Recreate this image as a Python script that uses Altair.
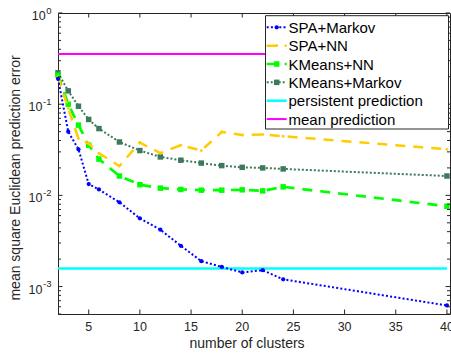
import altair as alt
import pandas as pd

# ---------------- data ----------------
clusters = [2, 3, 4, 5, 6, 8, 10, 12, 14, 16, 18, 20, 22, 24, 40]
spa_markov = [0.19, 0.050, 0.032, 0.0133, 0.0116, 0.0084, 0.0056, 0.0042, 0.0028,
              0.0019, 0.00164, 0.00143, 0.00151, 0.00120, 0.00062]
spa_nn = [0.20, 0.090, 0.042, 0.037, 0.029, 0.021, 0.038, 0.029, 0.0355,
          0.031, 0.0496, 0.0458, 0.0465, 0.0445, 0.032]
kmeans_nn = [0.208, 0.100, 0.059, 0.0355, 0.025, 0.0163, 0.0131, 0.0120, 0.0116,
             0.0114, 0.0114, 0.0115, 0.0112, 0.0124, 0.0076]
kmeans_markov = [0.221, 0.140, 0.095, 0.068, 0.054, 0.0385, 0.0310, 0.0264, 0.0243,
                 0.0226, 0.0212, 0.0203, 0.0200, 0.0195, 0.0163]
baseline_x = [2, 40]
persistent_value = [0.00158, 0.00158]
mean_value = [0.355, 0.355]

series_names = ["SPA+Markov", "SPA+NN", "KMeans+NN", "KMeans+Markov",
                "persistent prediction", "mean prediction"]

x_ticks = [5, 10, 15, 20, 25, 30, 35, 40]
y_major = [0.001, 0.01, 0.1, 1.0]
y_label_base = ["10", "10", "10", "10"]
y_label_exp = ["-3", "-2", "-1", "0"]
y_minor = [0.0005, 0.0006, 0.0007, 0.0008, 0.0009,
           0.002, 0.003, 0.004, 0.005, 0.006, 0.007, 0.008, 0.009,
           0.02, 0.03, 0.04, 0.05, 0.06, 0.07, 0.08, 0.09,
           0.2, 0.3, 0.4, 0.5, 0.6, 0.7, 0.8, 0.9]
x_title = "number of clusters"
y_title = "mean square Euclidean prediction error"

# ---------------- styling ----------------
W, H = 392, 301
FONT = "Liberation Sans"
INK = "#262626"

styles = {
    "SPA+Markov": dict(color="#0000ff", dash=[2, 2.2], width=2, shape="circle", size=18),
    "SPA+NN": dict(color="#ffcc00", dash=[10, 8], width=2.5, shape="circle", size=8),
    "KMeans+NN": dict(color="#00ff00", dash=[10, 8], width=2.7, shape="square", size=30),
    "KMeans+Markov": dict(color="#3d7a5c", dash=[2, 2], width=2, shape="square", size=30),
    "persistent prediction": dict(color="#00ffff", dash=None, width=2.5, shape=None, size=0),
    "mean prediction": dict(color="#ff00ff", dash=None, width=2, shape=None, size=0),
}

xs = alt.Scale(domain=[2, 40.3], nice=False, zero=False)
ys = alt.Scale(type="log", domain=[0.0005, 1], nice=False)

series_values = {
    "SPA+Markov": (clusters, spa_markov),
    "SPA+NN": (clusters, spa_nn),
    "KMeans+NN": (clusters, kmeans_nn),
    "KMeans+Markov": (clusters, kmeans_markov),
    "persistent prediction": (baseline_x, persistent_value),
    "mean prediction": (baseline_x, mean_value),
}

layers = []
for name in ["persistent prediction", "mean prediction", "KMeans+Markov", "KMeans+NN", "SPA+NN", "SPA+Markov"]:
    xv, yv = series_values[name]
    df = pd.DataFrame({"clusters": xv, "err": yv})
    st = styles[name]
    line_kw = dict(color=st["color"], strokeWidth=st["width"])
    if st["dash"]:
        line_kw["strokeDash"] = st["dash"]
    enc = dict(
        x=alt.X("clusters:Q", scale=xs, axis=None),
        y=alt.Y("err:Q", scale=ys, axis=None),
    )
    layers.append(alt.Chart(df).mark_line(**line_kw).encode(**enc))
    if st["shape"]:
        layers.append(alt.Chart(df).mark_point(filled=True, shape=st["shape"], size=st["size"],
                                               color=st["color"], opacity=1).encode(**enc))

# inward tick marks (box style)
ymaj = pd.DataFrame({"v": y_major, "base": y_label_base, "exp": y_label_exp})
ymin = pd.DataFrame({"v": y_minor})
xmaj = pd.DataFrame({"v": x_ticks})
tick_kw = dict(color=INK, strokeWidth=1)
for dfv, ln in [(ymaj, 4.5), (ymin, 3)]:
    layers.append(alt.Chart(dfv).mark_rule(**tick_kw).encode(
        y=alt.Y("v:Q", scale=ys, axis=None), x=alt.value(0), x2=alt.value(ln)))
    layers.append(alt.Chart(dfv).mark_rule(**tick_kw).encode(
        y=alt.Y("v:Q", scale=ys, axis=None), x=alt.value(W - ln), x2=alt.value(W)))
layers.append(alt.Chart(xmaj).mark_rule(**tick_kw).encode(
    x=alt.X("v:Q", scale=xs, axis=None), y=alt.value(H - 4.5), y2=alt.value(H)))
layers.append(alt.Chart(xmaj).mark_rule(**tick_kw).encode(
    x=alt.X("v:Q", scale=xs, axis=None), y=alt.value(0), y2=alt.value(4.5)))

# tick labels
layers.append(alt.Chart(xmaj).mark_text(font=FONT, fontSize=12.5, color=INK, align="center",
                                        baseline="alphabetic").encode(
    x=alt.X("v:Q", scale=xs, axis=None), y=alt.value(H + 17), text="v:Q"))
# y labels: 10 with superscript exponent
layers.append(alt.Chart(ymaj).mark_text(font=FONT, fontSize=9.5, color=INK, align="right",
                                        baseline="alphabetic", dy=0.5).encode(
    y=alt.Y("v:Q", scale=ys, axis=None), x=alt.value(-6.5), text="exp:N"))
layers.append(alt.Chart(ymaj).transform_filter(alt.datum.exp != "0").mark_text(
    font=FONT, fontSize=12.5, color=INK, align="right", baseline="alphabetic", dy=7).encode(
    y=alt.Y("v:Q", scale=ys, axis=None), x=alt.value(-15.5), text="base:N"))
layers.append(alt.Chart(ymaj).transform_filter(alt.datum.exp == "0").mark_text(
    font=FONT, fontSize=12.5, color=INK, align="right", baseline="alphabetic", dy=7).encode(
    y=alt.Y("v:Q", scale=ys, axis=None), x=alt.value(-12.3), text="base:N"))

# axis titles
title_df = pd.DataFrame({"xt": [x_title], "yt": [y_title]})
layers.append(alt.Chart(title_df).mark_text(font=FONT, fontSize=14, color=INK, align="center",
                                            baseline="alphabetic").encode(
    x=alt.value(189), y=alt.value(334.5), text="xt:N"))
layers.append(alt.Chart(title_df).mark_text(font=FONT, fontSize=14, color=INK, align="center",
                                            baseline="alphabetic", angle=270).encode(
    x=alt.value(-38.5), y=alt.value(165), text="yt:N"))

# legend box
legend_df = pd.DataFrame({"series": series_names})
layers.append(alt.Chart(legend_df).transform_filter(
    alt.datum.series == series_names[0]).mark_rect(
    fill="white", stroke=INK, strokeWidth=1).encode(
    x=alt.value(207.5), x2=alt.value(390.5), y=alt.value(2.7), y2=alt.value(116)))

for i, name in enumerate(series_names):
    st = styles[name]
    yy = 14.3 + i * 18.35
    base = alt.Chart(legend_df).transform_filter(alt.datum.series == name)
    kw = dict(color=st["color"], strokeWidth=st["width"])
    if st["dash"]:
        kw["strokeDash"] = st["dash"]
    layers.append(base.mark_rule(**kw).encode(
        x=alt.value(208.7), x2=alt.value(228.7), y=alt.value(yy)))
    if st["shape"]:
        layers.append(base.mark_point(filled=True, shape=st["shape"], size=st["size"],
                                      color=st["color"], opacity=1).encode(
            x=alt.value(218.7), y=alt.value(yy)))
    layers.append(base.mark_text(align="left", baseline="middle", font=FONT, fontSize=15,
                                 color="#000000").encode(
        x=alt.value(230.5), y=alt.value(yy + 0.5), text="series:N"))

chart = alt.layer(*layers).properties(
    width=W, height=H,
    padding={"left": 58, "top": 13, "right": 1, "bottom": 40},
    autosize=alt.AutoSizeParams(type="none"),
    background="white",
).configure_view(stroke=INK, strokeWidth=1)

chart.save("out.html", embed_options={"renderer": "svg", "actions": False})
